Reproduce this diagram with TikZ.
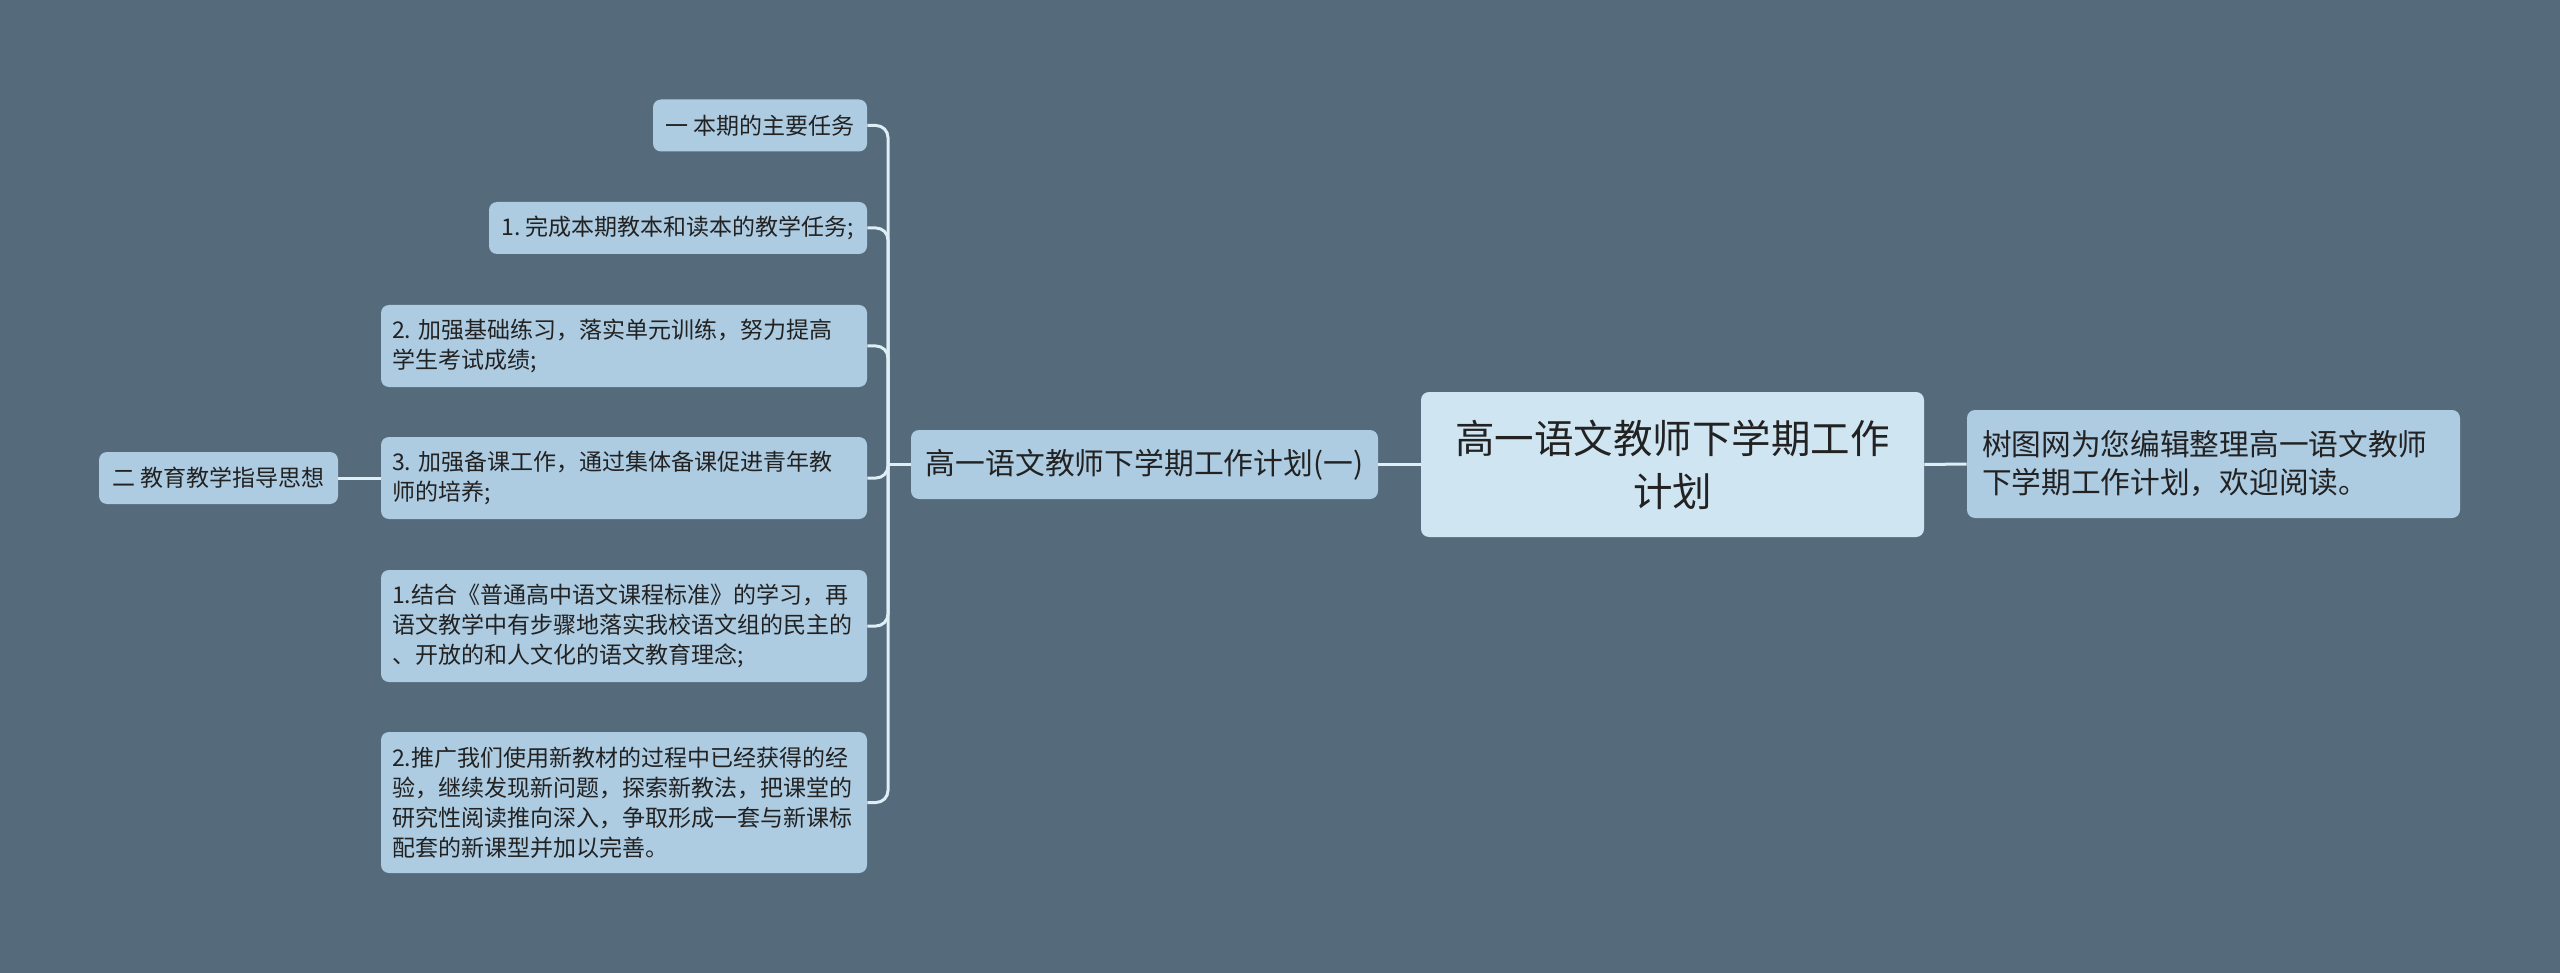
\documentclass[tikz,border=0pt]{standalone}
\usepackage{fontspec}
\setmainfont{Noto Sans CJK SC}
\frenchspacing
\definecolor{bgc}{RGB}{85,106,122}
\definecolor{leafc}{RGB}{173,203,225}
\definecolor{rootc}{RGB}{207,229,242}
\definecolor{linec}{RGB}{222,238,246}
\definecolor{textc}{RGB}{34,34,34}
\tikzset{
  leaf/.style={fill=leafc, rounded corners=4pt, text=textc, align=left,
    font=\fontsize{11.5}{15}\selectfont\frenchspacing, inner xsep=6pt, inner ysep=0pt,
    minimum height=26pt},
  leafmulti/.style={leaf, text width=232pt, inner xsep=5.5pt},
  conn/.style={draw=linec, line width=1.5pt},
  busconn/.style={conn, rounded corners=6pt}
}
\begin{document}
\begin{tikzpicture}[x=0.5pt,y=-0.5pt]
\fill[bgc] (0,0) rectangle (2560,973);
\useasboundingbox (0,0) rectangle (2560,973);

% root
\node[fill=rootc, rounded corners=4pt, text=textc, align=center,
  font=\fontsize{19.75}{26.5}\selectfont, minimum width=251.5pt,
  minimum height=72.5pt, inner sep=0pt] (root) at (1672.5,464.5)
  {高一语文教师下学期工作\\计划};

% right note
\node[fill=leafc, rounded corners=4pt, text=textc, align=left,
  font=\fontsize{14.85}{19}\selectfont, text width=231.5pt, inner xsep=7.5pt,
  inner ysep=0pt, minimum height=54pt] (note) at (2213.5,464)
  {树图网为您编辑整理高一语文教师\\下学期工作计划，欢迎阅读。};

% mid
\node[fill=leafc, rounded corners=4pt, text=textc,
  font=\fontsize{14.9}{18}\selectfont, minimum width=233.5pt,
  minimum height=34.5pt, inner sep=0pt] (mid) at (1144.5,464.5)
  {高一语文教师下学期工作计划(一)};

% leaves
\node[leaf, minimum width=107pt] (n1) at (760,125.5) {一 本期的主要任务};
\node[leaf, minimum width=189pt] (n2) at (678,228) {1. 完成本期教本和读本的教学任务;};
\node[leafmulti, minimum height=41pt] (n3) at (624,346)
  {2. 加强基础练习，落实单元训练，努力提高\\学生考试成绩;};
\node[leafmulti, minimum height=41pt] (n4) at (624,478)
  {3. 加强备课工作，通过集体备课促进青年教\\师的培养;};
\node[leafmulti, minimum height=56pt] (n5) at (624,626)
  {1.结合《普通高中语文课程标准》的学习，再\\语文教学中有步骤地落实我校语文组的民主的\\、开放的和人文化的语文教育理念;};
\node[leafmulti, minimum height=70.5pt] (n6) at (624,802.5)
  {2.推广我们使用新教材的过程中已经获得的经\\验，继续发现新问题，探索新教法，把课堂的\\研究性阅读推向深入，争取形成一套与新课标\\配套的新课型并加以完善。};
\node[leaf, minimum width=119.5pt] (n7) at (218.5,478) {二 教育教学指导思想};

% connectors
\coordinate (bus) at (888,464.5);
\draw[conn] (root.west) -- (mid.east);
\draw[conn] (root.east) -- (note.west);
\draw[conn] (mid.west) -- (bus);
\draw[busconn] (bus) |- (n1.east);
\draw[busconn] (bus) |- (n2.east);
\draw[busconn] (bus) |- (n3.east);
\draw[busconn] (bus) |- (n4.east);
\draw[busconn] (bus) |- (n5.east);
\draw[busconn] (bus) |- (n6.east);
\draw[conn] (n7.east) -- (n4.west);
\end{tikzpicture}
\end{document}
